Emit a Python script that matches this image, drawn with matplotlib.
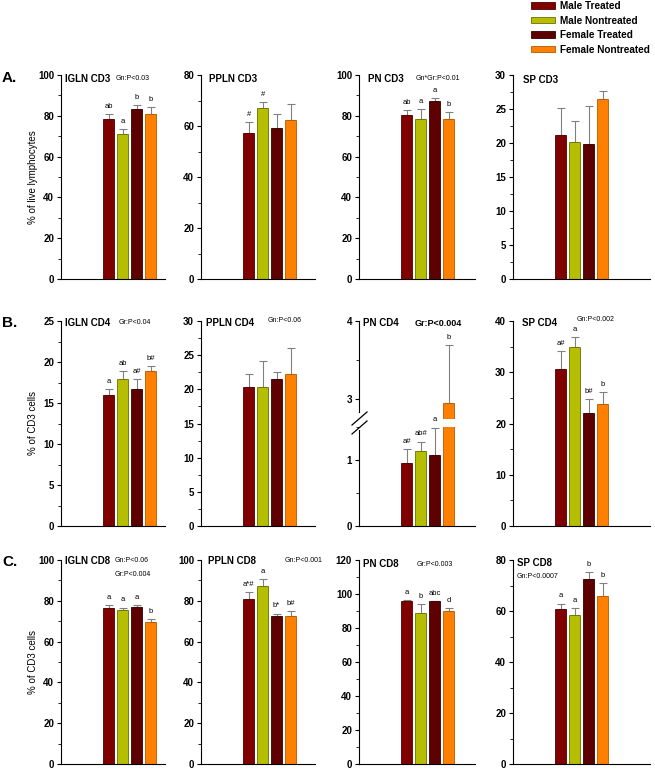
"""Lymphocyte subsets by tissue, sex and treatment (3x4 bar panels)."""

import matplotlib

matplotlib.use("Agg")
import matplotlib.pyplot as plt
from matplotlib.lines import Line2D
from matplotlib.patches import Patch
from matplotlib.ticker import MultipleLocator

plt.rcParams["font.family"] = ["Liberation Sans", "DejaVu Sans"]

W, H = 655, 770

groups = ["Male Treated", "Male Nontreated", "Female Treated", "Female Nontreated"]
colors = ["#800000", "#b5be00", "#5c0000", "#ff8000"]
edges = ["#4a0000", "#6b7000", "#300000", "#b35a00"]

# row A: CD3 (% of live lymphocytes)
igln_cd3 = [78.3, 71.1, 83.2, 80.7]
igln_cd3_err = [2.6, 2.3, 2.0, 3.5]
igln_cd3_sig = ["ab", "a", "b", "b"]
ppln_cd3 = [57.4, 67.0, 59.1, 62.3]
ppln_cd3_err = [4.1, 2.3, 5.5, 6.2]
ppln_cd3_sig = ["#", "#", "", ""]
pn_cd3 = [80.4, 78.3, 87.3, 78.3]
pn_cd3_err = [2.5, 4.9, 1.3, 3.4]
pn_cd3_sig = ["ab", "a", "a", "b"]
sp_cd3 = [21.2, 20.2, 19.9, 26.5]
sp_cd3_err = [3.9, 3.0, 5.6, 1.2]
sp_cd3_sig = ["", "", "", ""]

# row B: CD4 (% of CD3 cells)
igln_cd4 = [16.0, 17.9, 16.7, 18.9]
igln_cd4_err = [0.7, 1.0, 1.2, 0.6]
igln_cd4_sig = ["a", "ab", "a#", "b#"]
ppln_cd4 = [20.4, 20.4, 21.5, 22.2]
ppln_cd4_err = [1.8, 3.7, 1.1, 3.9]
ppln_cd4_sig = ["", "", "", ""]
pn_cd4 = [0.95, 1.14, 1.07, 2.95]
pn_cd4_err = [0.22, 0.14, 0.42, 0.74]
pn_cd4_sig = ["a#", "ab#", "a", "b"]
sp_cd4 = [30.6, 34.9, 22.0, 23.9]
sp_cd4_err = [3.5, 1.9, 2.8, 2.3]
sp_cd4_sig = ["a#", "a", "b#", "b"]

# row C: CD8 (% of CD3 cells)
igln_cd8 = [76.7, 75.4, 76.9, 69.8]
igln_cd8_err = [1.0, 1.3, 1.0, 1.4]
igln_cd8_sig = ["a", "a", "a", "b"]
ppln_cd8 = [81.0, 87.3, 72.7, 72.5]
ppln_cd8_err = [3.2, 3.4, 1.0, 2.5]
ppln_cd8_sig = ["a*#", "a", "b*", "b#"]
pn_cd8 = [95.6, 88.8, 95.6, 90.1]
pn_cd8_err = [1.0, 5.2, 0.3, 1.6]
pn_cd8_sig = ["a", "b", "abc", "d"]
sp_cd8 = [60.6, 58.5, 72.5, 65.8]
sp_cd8_err = [2.3, 2.6, 2.8, 5.1]
sp_cd8_sig = ["a", "a", "b", "b"]

x = list(range(len(groups)))

# axes frames in pixels: left / right edges per column, top / bottom per row
col_lr = [(61, 165), (201, 315), (359, 475), (513, 650)]
row_tb = [(75, 279), (321, 526), (560, 764)]


def fx(px):
    return px / W


def fy(py):
    return 1 - py / H


def make_axes(fig, col, row, top=None, bottom=None):
    l, r = col_lr[col]
    t, b = row_tb[row]
    t = t if top is None else top
    b = b if bottom is None else bottom
    ax = fig.add_axes([fx(l), fy(b), fx(r - l), (b - t) / H])
    ax.set_xlim(-3.4, -3.4 + (r - l) / 14)
    for s in ["top", "right"]:
        ax.spines[s].set_visible(False)
    ax.set_xticks([])
    ax.tick_params(axis="y", direction="out", length=3, width=0.8, labelsize=7, pad=2)
    ax.tick_params(axis="y", which="minor", direction="out", length=2, width=0.6)
    return ax


def draw_bars(ax, vals, errs, sigs, sig_fs=5.5):
    ax.bar(x, vals, width=0.8, color=colors, edgecolor=edges, linewidth=0.6, zorder=2)
    ax.errorbar(x, vals, yerr=[[0] * 4, errs], fmt="none", ecolor="#808080",
                elinewidth=0.8, capsize=3, capthick=0.8, zorder=1)
    for xi, v, e, s in zip(x, vals, errs, sigs):
        if s:
            ax.annotate(s, (xi, v + e), xytext=(0, 3), textcoords="offset points",
                        ha="center", va="bottom", fontsize=sig_fs,
                        annotation_clip=False)


def style_ticks(ax, top, major, minor):
    ax.set_ylim(0, top)
    ax.yaxis.set_major_locator(MultipleLocator(major))
    ax.yaxis.set_minor_locator(MultipleLocator(minor))
    for lab in ax.get_yticklabels():
        lab.set_fontweight("bold")


def title(fig, px, py, text):
    fig.text(fx(px), fy(py), text, fontsize=7, fontweight="bold", va="center")


def ptext(fig, px, py, text, fs=5, bold=False):
    fig.text(fx(px), fy(py), text, fontsize=fs, va="center",
             fontweight="bold" if bold else "normal")


fig = plt.figure(figsize=(W / 100, H / 100), dpi=100)

# ---- row A ----
ax = make_axes(fig, 0, 0)
draw_bars(ax, igln_cd3, igln_cd3_err, igln_cd3_sig)
style_ticks(ax, 100, 20, 10)
title(fig, 65, 79, "IGLN CD3")
ptext(fig, 116, 79, "Gn:P<0.03")

ax = make_axes(fig, 1, 0)
draw_bars(ax, ppln_cd3, ppln_cd3_err, ppln_cd3_sig)
style_ticks(ax, 80, 20, 10)
title(fig, 209, 79, "PPLN CD3")

ax = make_axes(fig, 2, 0)
draw_bars(ax, pn_cd3, pn_cd3_err, pn_cd3_sig)
style_ticks(ax, 100, 20, 10)
title(fig, 368, 79, "PN CD3")
ptext(fig, 416, 79, "Gn*Gr:P<0.01")

ax = make_axes(fig, 3, 0)
draw_bars(ax, sp_cd3, sp_cd3_err, sp_cd3_sig)
style_ticks(ax, 30, 5, 2.5)
title(fig, 523, 80, "SP CD3")

# ---- row B ----
ax = make_axes(fig, 0, 1)
draw_bars(ax, igln_cd4, igln_cd4_err, igln_cd4_sig)
style_ticks(ax, 25, 5, 2.5)
title(fig, 65, 323, "IGLN CD4")
ptext(fig, 119, 323, "Gr:P<0.04")

ax = make_axes(fig, 1, 1)
draw_bars(ax, ppln_cd4, ppln_cd4_err, ppln_cd4_sig)
style_ticks(ax, 30, 5, 2.5)
title(fig, 206, 323, "PPLN CD4")
ptext(fig, 268, 321, "Gn:P<0.06")

# PN CD4: broken y axis (upper piece 2.75-4, lower piece 0-1.5)
ax_hi = make_axes(fig, 2, 1, bottom=419)
ax_hi.spines["bottom"].set_visible(False)
ax_hi.bar(x, pn_cd4, width=0.8, color=colors, edgecolor=edges, linewidth=0.6,
          zorder=2)
ax_hi.errorbar(x, pn_cd4, yerr=[[0] * 4, pn_cd4_err], fmt="none", ecolor="#808080",
               elinewidth=0.8, capsize=3, capthick=0.8, zorder=1)
ax_hi.annotate(pn_cd4_sig[3], (x[3], pn_cd4[3] + pn_cd4_err[3]), xytext=(0, 3),
               textcoords="offset points", ha="center", va="bottom", fontsize=5.5)
ax_hi.set_ylim(2.745, 4)
ax_hi.yaxis.set_major_locator(MultipleLocator(1))
ax_hi.yaxis.set_minor_locator(MultipleLocator(0.5))
ax_hi.spines["left"].set_bounds(2.84, 4)
for lab in ax_hi.get_yticklabels():
    lab.set_fontweight("bold")

ax_lo = make_axes(fig, 2, 1, top=427)
ax_lo.bar(x, pn_cd4, width=0.8, color=colors, edgecolor=edges, linewidth=0.6,
          zorder=2)
ax_lo.errorbar(x[:3], pn_cd4[:3], yerr=[[0] * 3, pn_cd4_err[:3]], fmt="none",
               ecolor="#808080", elinewidth=0.8, capsize=3, capthick=0.8, zorder=1)
for xi, v, e, s in zip(x[:3], pn_cd4[:3], pn_cd4_err[:3], pn_cd4_sig[:3]):
    ax_lo.annotate(s, (xi, v + e), xytext=(0, 3), textcoords="offset points",
                   ha="center", va="bottom", fontsize=5.5, annotation_clip=False)
ax_lo.set_ylim(0, 1.5)
ax_lo.yaxis.set_major_locator(MultipleLocator(1))
ax_lo.yaxis.set_minor_locator(MultipleLocator(0.5))
ax_lo.spines["left"].set_bounds(0, 1.45)
for lab in ax_lo.get_yticklabels():
    lab.set_fontweight("bold")
for dy in (0, 9):
    fig.add_artist(Line2D([fx(352), fx(367)], [fy(425 + dy), fy(412 + dy)],
                          color="black", linewidth=0.9))
title(fig, 363, 323, "PN CD4")
ptext(fig, 415, 323, "Gr:P<0.004", fs=6.5, bold=True)

ax = make_axes(fig, 3, 1)
draw_bars(ax, sp_cd4, sp_cd4_err, sp_cd4_sig)
style_ticks(ax, 40, 10, 5)
title(fig, 522, 323, "SP CD4")
ptext(fig, 577, 319, "Gn:P<0.002")

# ---- row C ----
ax = make_axes(fig, 0, 2)
draw_bars(ax, igln_cd8, igln_cd8_err, igln_cd8_sig)
style_ticks(ax, 100, 20, 10)
title(fig, 65, 561, "IGLN CD8")
ptext(fig, 115, 561, "Gn:P<0.06")
ptext(fig, 115, 574, "Gr:P<0.004")

ax = make_axes(fig, 1, 2)
draw_bars(ax, ppln_cd8, ppln_cd8_err, ppln_cd8_sig)
style_ticks(ax, 100, 20, 10)
title(fig, 208, 561, "PPLN CD8")
ptext(fig, 285, 561, "Gn:P<0.001")

ax = make_axes(fig, 2, 2)
draw_bars(ax, pn_cd8, pn_cd8_err, pn_cd8_sig)
style_ticks(ax, 120, 20, 10)
title(fig, 363, 564, "PN CD8")
ptext(fig, 417, 564, "Gr:P<0.003")

ax = make_axes(fig, 3, 2)
draw_bars(ax, sp_cd8, sp_cd8_err, sp_cd8_sig)
style_ticks(ax, 80, 20, 10)
title(fig, 517, 563, "SP CD8")
ptext(fig, 517, 577, "Gn:P<0.0007")

# panel letters and y labels
for letter, py in [("A.", 78), ("B.", 323), ("C.", 562)]:
    fig.text(fx(2), fy(py), letter, fontsize=11, fontweight="bold", va="center")
fig.text(fx(33), fy(177), "% of live lymphocytes", rotation=90, fontsize=7,
         ha="center", va="center")
fig.text(fx(33), fy(423), "% of CD3 cells", rotation=90, fontsize=7,
         ha="center", va="center")
fig.text(fx(33), fy(662), "% of CD3 cells", rotation=90, fontsize=7,
         ha="center", va="center")

handles = [Patch(facecolor=c, edgecolor=e, linewidth=0.6) for c, e in zip(colors, edges)]
fig.legend(handles, groups, loc="upper left", bbox_to_anchor=(fx(524), fy(-6)),
           frameon=False, prop={"size": 7.2, "weight": "bold"},
           handlelength=2.4, handleheight=0.6, handletextpad=0.45,
           labelspacing=0.45, borderpad=0.2)

fig.savefig("out.png", dpi=100)
